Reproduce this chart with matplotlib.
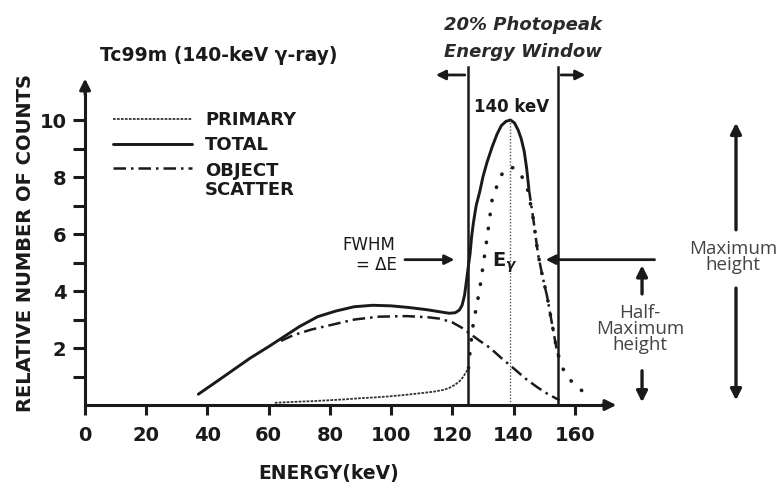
import numpy as np
import matplotlib.pyplot as plt

# energy (keV) / relative counts
total_e = [37, 42, 48, 54, 60, 65, 70, 76, 82, 88, 94, 100, 106, 112, 116, 119,
           121, 122.3, 123.2, 124, 124.8, 125.4, 125.8, 126.3, 126.9, 127.8, 129,
           130, 131.3, 133, 134.6, 136, 137.5, 139, 140.3, 141.5, 142.5, 143.5,
           144.3, 145, 146.5, 148, 149.5, 151, 152.5, 154.2, 155]
total_y = [0.38, 0.75, 1.2, 1.65, 2.05, 2.4, 2.75, 3.1, 3.3, 3.45, 3.5, 3.48, 3.42,
           3.34, 3.27, 3.22, 3.24, 3.33, 3.5, 3.85, 4.5, 5.0, 5.3, 5.9, 6.4, 7.0,
           7.5, 8.0, 8.5, 9.05, 9.5, 9.8, 9.95, 10.0, 9.9, 9.65, 9.35, 8.9, 8.3,
           7.6, 6.5, 5.3, 4.5, 3.8, 2.9, 1.9, 1.6]

scatter_e = [64, 68, 74, 80, 88, 96, 105, 112, 116, 120, 123, 125.8, 129, 132.4,
             136, 139.9, 144, 147.7, 151, 155]
scatter_y = [2.25, 2.45, 2.65, 2.8, 3.0, 3.1, 3.12, 3.08, 3.03, 2.9, 2.72, 2.5,
             2.25, 2.0, 1.65, 1.3, 0.92, 0.63, 0.4, 0.17]

primary_tail_e = [62, 66, 70, 75, 80, 85, 90, 95, 100, 105, 110, 114, 117, 119,
                  121, 122.5, 123.5, 124.5, 125.3]
primary_tail_y = [0.08, 0.1, 0.12, 0.14, 0.17, 0.2, 0.24, 0.27, 0.31, 0.36, 0.42,
                  0.47, 0.53, 0.6, 0.72, 0.85, 0.98, 1.15, 1.3]

peak_e = [125.3, 126, 126.9, 128, 129, 130.2, 131.4, 133, 135.6, 137.5, 139, 140.5,
          142.2, 144.8, 146.5, 148, 149.5, 151, 152.5, 154.2, 156, 158, 160, 163, 166]
peak_y = [1.3, 2.1, 2.9, 3.5, 4.1, 5.0, 5.9, 7.2, 8.0, 8.3, 8.35, 8.3, 8.15, 7.5,
          6.5, 5.3, 4.5, 3.8, 2.9, 1.9, 1.3, 0.95, 0.7, 0.45, 0.3]

e_gamma = 139
window = [125, 154.6]
half_max = 5.1

INK = '#1a1a1a'
GREY = '#333333'
plt.rcParams['font.family'] = 'DejaVu Sans'
plt.rcParams['font.weight'] = 'bold'

fig = plt.figure(figsize=(7.77, 4.84), dpi=100)
ax = fig.add_axes([0, 0, 1, 1])
ax.set_xlim(-27.8, 226.1)
ax.set_ylim(-2.77, 14.21)

# axes with arrows
for s in ['top', 'right']:
    ax.spines[s].set_visible(False)
ax.spines['left'].set_position(('data', 0))
ax.spines['bottom'].set_position(('data', 0))
ax.spines['left'].set_bounds(0, 11.0)
ax.spines['bottom'].set_bounds(0, 170)
for s in ['left', 'bottom']:
    ax.spines[s].set_linewidth(2.2)
    ax.spines[s].set_color(INK)
ax.annotate('', xy=(0, 11.55), xytext=(0, 10.8),
            arrowprops=dict(arrowstyle='-|>', color=INK, lw=2.2, mutation_scale=16))
ax.annotate('', xy=(174.5, 0), xytext=(168, 0),
            arrowprops=dict(arrowstyle='-|>', color=INK, lw=2.2, mutation_scale=16))

ax.set_xticks(range(0, 161, 20))
ax.set_yticks([2, 4, 6, 8, 10])
ax.set_yticks([1, 3, 5, 7, 9], minor=True)
ax.tick_params(axis='x', direction='out', length=7, width=2.2, color=INK,
               labelsize=14, pad=8, labelcolor=INK)
ax.tick_params(axis='y', which='both', direction='out', length=8.5, width=2.2,
               color=INK, labelsize=14, pad=5, labelcolor=INK)

# curves
te = np.array(total_e)
ty = np.array(total_y)
main = te <= 145
tail = te >= 145
ax.plot(te[main], ty[main], color=INK, lw=2.1, solid_capstyle='round',
        solid_joinstyle='round', label='TOTAL')
ax.plot(te[tail], ty[tail], color=INK, lw=1.8, linestyle=(0, (5, 2, 1, 2)))
ax.plot(scatter_e, scatter_y, color=INK, lw=1.8, linestyle=(0, (5, 2, 1, 2)),
        label='OBJECT\nSCATTER')
ax.plot(primary_tail_e, primary_tail_y, color=GREY, lw=1.3, linestyle=(0, (1.5, 0.7)),
        label='PRIMARY')
ax.plot(peak_e, peak_y, color=INK, lw=2.6, linestyle=(0, (0.1, 3.8)),
        dash_capstyle='round')

# E gamma line and window
ax.plot([e_gamma, e_gamma], [0, 10], color='#555555', lw=1.0, linestyle=(0, (1, 1.3)))
for w in window:
    ax.plot([w, w], [0, 11.86], color=INK, lw=1.8)
ax.annotate('', xy=(113.7, 11.58), xytext=(window[0], 11.58),
            arrowprops=dict(arrowstyle='-|>', color=INK, lw=2, mutation_scale=14))
ax.annotate('', xy=(164.4, 11.58), xytext=(window[1], 11.58),
            arrowprops=dict(arrowstyle='-|>', color=INK, lw=2, mutation_scale=14))

# FWHM arrows
ax.annotate('', xy=(121.6, half_max), xytext=(103.6, half_max),
            arrowprops=dict(arrowstyle='-|>', color=INK, lw=2, mutation_scale=14))
ax.annotate('', xy=(149.6, half_max), xytext=(187, half_max),
            arrowprops=dict(arrowstyle='-|>', color=INK, lw=2, mutation_scale=14))

# half-max / maximum height arrows
arrow_kw = dict(arrowstyle='-|>', color=INK, lw=2.4, mutation_scale=16)
ax.annotate('', xy=(182, 5.0), xytext=(182, 3.8), arrowprops=arrow_kw)
ax.annotate('', xy=(182, 0.0), xytext=(182, 1.3), arrowprops=arrow_kw)
ax.annotate('', xy=(212.7, 10.0), xytext=(212.7, 6.05), arrowprops=arrow_kw)
ax.annotate('', xy=(212.7, 0.07), xytext=(212.7, 4.2), arrowprops=arrow_kw)

# text
ax.text(43.6, 12.28, 'Tc99m (140-keV γ-ray)', ha='center', va='center',
        fontsize=13.5, color=INK)
ax.text(143.1, 13.33, '20% Photopeak', ha='center', va='center', fontsize=13,
        style='italic', color='#2a2a2a')
ax.text(143.1, 12.39, 'Energy Window', ha='center', va='center', fontsize=13,
        style='italic', color='#2a2a2a')
ax.text(139.3, 10.46, '140 keV', ha='center', va='center', fontsize=12, color=INK)
ax.text(137.0, 5.0, r'$\mathbf{E}_{\gamma}$', ha='center', va='center',
        fontsize=14, color=INK)
ax.text(92.8, 5.6, 'FWHM', ha='center', va='center', fontsize=12,
        fontweight='normal', color=INK)
ax.text(95.2, 4.9, '= ΔE', ha='center', va='center', fontsize=12,
        fontweight='normal', color=INK)
ax.text(181.4, 2.67, 'Half-\nMaximum\nheight', ha='center', va='center',
        fontsize=13.5, fontweight='normal', family='Open Sans', color='#444444',
        linespacing=0.85)
ax.text(211.8, 5.19, 'Maximum\nheight', ha='center', va='center', fontsize=13.5,
        fontweight='normal', family='Open Sans', color='#444444', linespacing=0.85)
ax.text(79.6, -2.39, 'ENERGY(keV)', ha='center', va='center', fontsize=13.5, color=INK)
ax.text(-19.6, 5.7, 'RELATIVE NUMBER OF COUNTS', ha='center', va='center',
        rotation=90, fontsize=14, color=INK)

handles, labels = ax.get_legend_handles_labels()
order = [labels.index('PRIMARY'), labels.index('TOTAL'), labels.index('OBJECT\nSCATTER')]
leg = ax.legend([handles[i] for i in order], [labels[i] for i in order],
                loc='upper left', bbox_to_anchor=(0.1454, 0.771), frameon=False,
                borderpad=0, borderaxespad=0, handlelength=4.4, handletextpad=0.7,
                labelspacing=0.42, fontsize=13)
for t in leg.get_texts():
    t.set_color(INK)
    t.set_linespacing(1.1)
# put the scatter key beside the first line of its two-line label
leg._legend_handle_box.get_children()[0].get_children()[2].align = 'top'

plt.savefig('out.png', dpi=100)
